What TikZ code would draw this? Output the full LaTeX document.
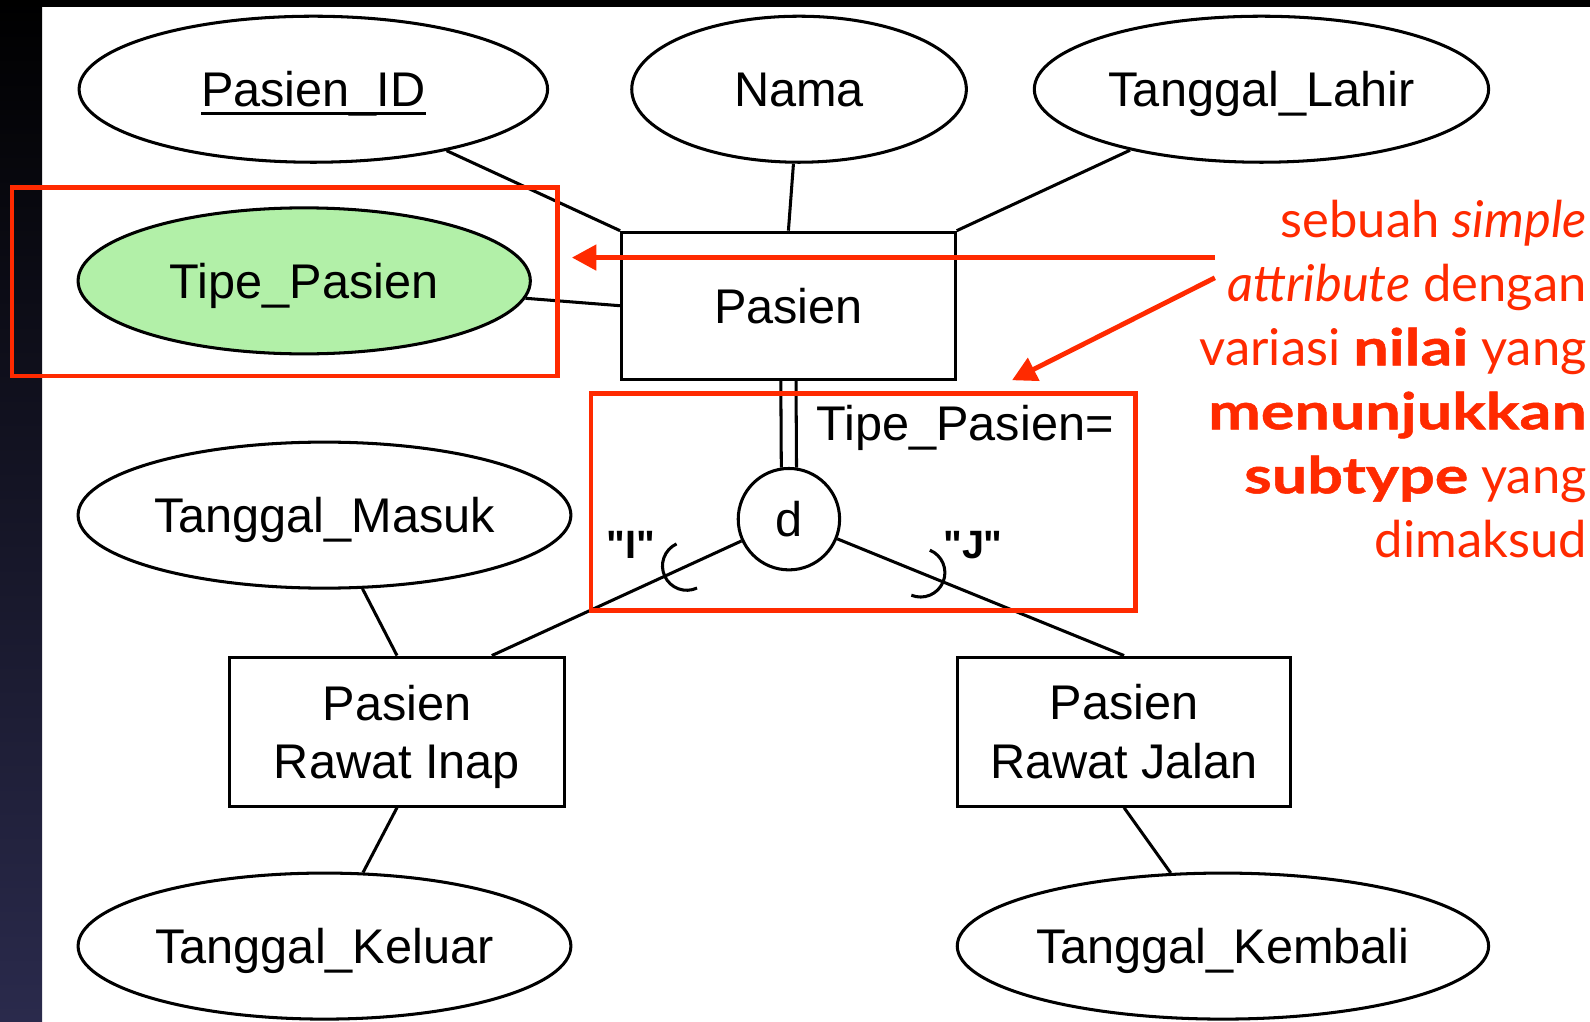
\documentclass[tikz,border=0pt]{standalone}
\usepackage{fontspec}
\setmainfont{Liberation Sans}
\newfontfamily\notefont{Lato}[BoldFeatures={FakeStretch=1.24,FakeBold=1}]
\usetikzlibrary{shapes.geometric,arrows.meta,calc}
\definecolor{annot}{RGB}{255,42,0}
\definecolor{attrgreen}{RGB}{178,240,168}
\definecolor{stripnavy}{RGB}{42,42,76}
\newcommand\keyattr[1]{\setbox0\hbox{#1}\rlap{\rule[-8.5pt]{\wd0}{3.4pt}}\box0}
\newcommand\qd{\textquotedbl}
\begin{document}
\begin{tikzpicture}[x=1pt,y=1pt,
  lbl/.style={font=\fontsize{48}{57.5}\selectfont},
  attr/.style={lbl, ellipse, draw=black, line width=3pt, fill=white, inner sep=0pt,
    minimum height=144pt, text height=34.5pt, text depth=0pt},
  entity/.style={lbl, rectangle, draw=black, line width=3pt, fill=white, inner sep=0pt, align=center},
  conn/.style={line width=3pt, black},
  hibox/.style={draw=annot, line width=4.5pt, inner sep=0pt},
  notearrow/.style={draw=annot, line width=4.8pt, -{Triangle[length=24pt,width=24.5pt]}},
  subsetarc/.style={line width=3pt, black},
  quotelbl/.style={font=\bfseries\fontsize{39}{40}\selectfont, inner sep=0pt, anchor=base west},
]
\useasboundingbox (0,0) rectangle (1568,1007);
\fill[white] (0,0) rectangle (1568,1007);
\shade[top color=black, bottom color=stripnavy] (0,0) rectangle (41.5,1007);
\fill[black] (0,1000) rectangle (1568,1007);

% attributes
\node[attr, minimum width=462pt] (pid) at (309,919) {\keyattr{Pasien\_ID}};
\node[attr, minimum width=330pt] (nama) at (788,919) {Nama};
\node[attr, minimum width=448pt] (tl) at (1244,919) {Tanggal\_Lahir};
\node[attr, minimum width=446pt, fill=attrgreen] (tp) at (300,730) {Tipe\_Pasien};
\node[attr, minimum width=486pt] (tm) at (320,499) {Tanggal\_Masuk};
\node[attr, minimum width=486pt] (tk) at (320,74) {Tanggal\_Keluar};
\node[attr, minimum width=524pt] (tkb) at (1206,74) {Tanggal\_Kembali};

% entities
\node[entity, minimum width=329pt, minimum height=145pt] (pasien) at (777.5,705.5) {Pasien};
\node[entity, minimum width=331pt, minimum height=147pt] (inap) at (391.5,285.5)
  {Pasien\\\raisebox{0pt}[\height][0pt]{Rawat Inap}};
\node[entity, minimum width=329pt, minimum height=147pt] (jalan) at (1108.5,285.5) {Pasien\\Rawat Jalan};

% disjoint circle
\node[lbl, circle, draw=black, line width=3pt, fill=white, minimum size=100pt, inner sep=0pt,
  text height=34.5pt, text depth=0pt] (d) at (778,495) {d};

% connectors
\draw[conn] (pid) -- (pasien.north west);
\draw[conn] (nama) -- (pasien.north);
\draw[conn] (tl) -- (pasien.north east);
\draw[conn] (tp) -- (pasien.west);
\draw[conn] ($(pasien.south)+(-7.5,0)$) -- ($(d.north)+(-7.5,-0.6)$);
\draw[conn] ($(pasien.south)+(7.5,0)$) -- ($(d.north)+(7.5,-0.6)$);
\coordinate (inapjoin) at ($(inap.north west)!0.78!(inap.north east)$);
\draw[conn] (d) -- (inapjoin);
\draw[conn] (d) -- (jalan.north);
\draw[conn] (tm) -- (inap.north);
\draw[conn] (inap.south) -- (tk);
\draw[conn] (jalan.south) -- (tkb);

% subset arcs
\coordinate (ai) at ($(d.center)!0.418!(inapjoin)$);
\coordinate (aj) at ($(d.center)!0.46!(jalan.north)$);
\begin{scope}[shift={(ai)}, rotate=24.9]
  \draw[subsetarc] (24,24) arc[start angle=90, end angle=270, radius=24];
\end{scope}
\begin{scope}[shift={(aj)}, rotate=157.7]
  \draw[subsetarc] (24,24) arc[start angle=90, end angle=270, radius=24];
\end{scope}

% labels
\node[lbl, anchor=base west, inner sep=0pt] (cond) at (805,573) {Tipe\_Pasien=};
\node[quotelbl] (vi) at (598,456) {\qd I\qd};
\node[quotelbl] (vj) at (930,456) {\qd J\qd};

% highlight boxes
\node[hibox, minimum width=538pt, minimum height=186pt] (hb1) at (281,729) {};
\node[hibox, minimum width=537pt, minimum height=214pt] (hb2) at (851.5,512) {};

% annotation arrows
\coordinate (n1) at (1198,753);
\coordinate (t1) at (564,753);
\coordinate (n2) at (1198,733);
\coordinate (t2) at (998,632);
\draw[notearrow] (n1) -- (t1);
\draw[notearrow] (n2) -- (t2);

\node[anchor=north east, align=right, inner sep=0pt, text=annot,
  font=\notefont\fontsize{50}{63.1}\selectfont] (note) at (1565,810)
  {sebuah \textit{simple}\\ \textit{attribute} dengan\\ variasi \textbf{nilai} yang\\
   \textbf{menunjukkan}\\ \textbf{subtype} yang\\ dimaksud};
\end{tikzpicture}
\end{document}
